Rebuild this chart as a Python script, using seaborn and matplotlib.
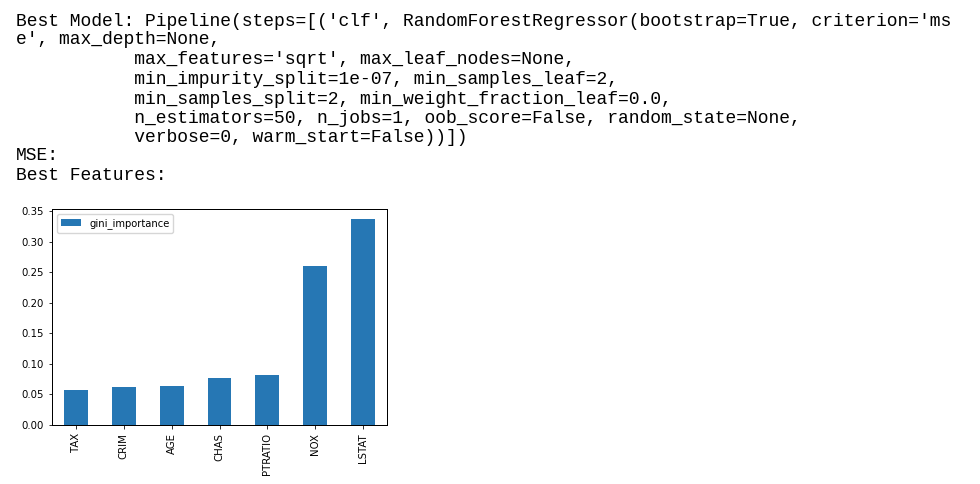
import matplotlib
matplotlib.use("Agg")
import matplotlib.pyplot as plt
import seaborn as sns

features = ["TAX", "CRIM", "AGE", "CHAS", "PTRATIO", "NOX", "LSTAT"]
gini_importance = [0.057, 0.062, 0.0636, 0.0766, 0.0815, 0.2605, 0.3365]

text_lines = [
    "Best Model: Pipeline(steps=[('clf', RandomForestRegressor(bootstrap=True, criterion='ms",
    "e', max_depth=None,",
    "           max_features='sqrt', max_leaf_nodes=None,",
    "           min_impurity_split=1e-07, min_samples_leaf=2,",
    "           min_samples_split=2, min_weight_fraction_leaf=0.0,",
    "           n_estimators=50, n_jobs=1, oob_score=False, random_state=None,",
    "           verbose=0, warm_start=False))])",
    "MSE:",
    "Best Features:",
]

W, H = 980, 484
fig = plt.figure(figsize=(W / 100, H / 100), dpi=100)

# printed output above the chart
line_y = [21, 40, 60, 79.5, 99, 118.5, 138, 156, 175]
for txt, y in zip(text_lines, line_y):
    fig.text(16 / W, 1 - y / H, txt, family="Liberation Mono", fontsize=13.0,
             va="center", ha="left", color="black")

ax = fig.add_axes([52 / W, 1 - 425 / H, (387 - 52) / W, (425 - 209) / H])
sns.barplot(x=features, y=gini_importance, color="#2677b4", width=0.5,
            saturation=1, label="gini_importance", ax=ax)
ax.set_ylim(0, 0.3533)
ax.set_yticks([0, 0.05, 0.1, 0.15, 0.2, 0.25, 0.3, 0.35])
ax.set_yticklabels([f"{v:.2f}" for v in ax.get_yticks()])
ax.tick_params(axis="both", labelsize=7.3, length=3.5 * 0.72, width=0.8 * 0.72)
ax.tick_params(axis="x", labelrotation=90)
for s in ax.spines.values():
    s.set_linewidth(0.72)
ax.set_xlabel("")
ax.set_ylabel("")
ax.legend(loc="upper left", fontsize=7.2, frameon=True)

fig.savefig("out.png", dpi=100)
